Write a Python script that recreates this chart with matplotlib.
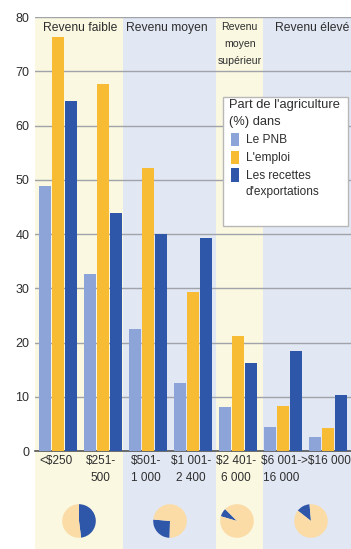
import matplotlib
matplotlib.use("Agg")
import matplotlib.pyplot as plt
from matplotlib.patches import Rectangle
import numpy as np

plt.rcParams['font.family'] = ['Liberation Sans', 'DejaVu Sans']

categories = ["<$250", "$251-\n500", "$501-\n1 000", "$1 001-\n2 400",
              "$2 401-\n6 000", "$6 001-\n16 000", ">$16 000"]
pnb = [48.8, 32.6, 22.5, 12.5, 8.1, 4.4, 2.6]
emploi = [76.3, 67.6, 52.2, 29.3, 21.2, 8.3, 4.2]
exports = [64.5, 43.9, 40.0, 39.3, 16.2, 18.4, 10.3]
series_labels = ["Le PNB", "L'emploi", "Les recettes\nd'exportations"]
legend_title = ["Part de l'agriculture", "(%) dans"]
groups = ["Revenu faible", "Revenu moyen", "Revenu\nmoyen\nsupérieur", "Revenu élevé"]
pie_shares = [48, 26, 8, 13]
yticks = [0, 10, 20, 30, 40, 50, 60, 70, 80]

c_pnb = "#8DA4D8"
c_emp = "#F8BB34"
c_exp = "#2F57A9"
c_yel = "#FAF8E1"
c_blu = "#E1E7F3"
c_txt = "#2E2E2E"

W, H = 351, 549
fig = plt.figure(figsize=(W/100, H/100), dpi=100)
fig.patch.set_facecolor("white")

def fx(px):
    return px / W

def fy(py):
    return (H - py) / H

ax_left, ax_right = 35, 351
ax_top, ax_bot = 17, 451
xmin = (ax_left - 58) / 45.0
xmax = (ax_right - 58) / 45.0

# background bands spanning to figure bottom
bg = fig.add_axes([fx(ax_left), 0, (ax_right-ax_left)/W, (H-ax_top)/H], zorder=0)
bg.set_xlim(xmin, xmax)
bg.set_ylim(0, 1)
bg.axis("off")
bands = [(xmin, 1.44, c_yel), (1.44, 3.51, c_blu), (3.51, 4.56, c_yel), (4.56, xmax, c_blu)]
for a, b, c in bands:
    bg.axvspan(a, b, color=c, lw=0)

ax = fig.add_axes([fx(ax_left), fy(ax_bot), (ax_right-ax_left)/W, (ax_bot-ax_top)/H], zorder=1)
ax.patch.set_alpha(0)
x = np.arange(len(categories))
w = 0.27
off = 0.29
ax.bar(x - off, pnb, w, color=c_pnb, zorder=3)
ax.bar(x, emploi, w, color=c_emp, zorder=3)
ax.bar(x + off, exports, w, color=c_exp, zorder=3)
ax.set_xlim(xmin, xmax)
ax.set_ylim(0, 80)
ax.set_yticks(yticks)
ax.set_yticklabels([str(t) for t in yticks], fontsize=9, color=c_txt)
ax.yaxis.grid(True, color="#A0A4AA", lw=1.0, zorder=1)
ax.tick_params(axis="y", length=0, pad=4)
ax.set_xticks(x - 0.05)
ax.set_xticklabels(categories, fontsize=8.5, color=c_txt, linespacing=1.55)
ax.tick_params(axis="x", length=0, pad=3)
for s in ["top", "right", "left"]:
    ax.spines[s].set_visible(False)
ax.spines["bottom"].set_color("#555555")
ax.spines["bottom"].set_linewidth(1.2)

# group labels
ax.text(0.49, 79.1, groups[0], ha="center", va="top", fontsize=8.7, color=c_txt, zorder=4)
ax.text(2.42, 79.1, groups[1], ha="center", va="top", fontsize=8.7, color=c_txt, zorder=4)
ax.text(4.04, 79.1, groups[2], ha="center", va="top", fontsize=7.6, color=c_txt,
        linespacing=1.9, zorder=4)
ax.text(4.82, 79.1, groups[3], ha="left", va="top", fontsize=8.7, color=c_txt, zorder=4)

# legend (drawn by hand in pixel positions)
fig.patches.append(Rectangle((fx(223), fy(226)), (348-223)/W, (226-97)/H,
                             transform=fig.transFigure, facecolor="white",
                             edgecolor="#B8B8B8", lw=1.0, zorder=5))
fig.text(fx(229), fy(105), legend_title[0], fontsize=9.3, color=c_txt,
         va="center", ha="left", zorder=6)
fig.text(fx(229), fy(122), legend_title[1], fontsize=9.3, color=c_txt,
         va="center", ha="left", zorder=6)
items = [(c_pnb, series_labels[0], 140, 133, 146),
         (c_emp, series_labels[1], 158, 151, 164),
         (c_exp, series_labels[2], 184, 168, 182)]
for col, lab, ty, y0, y1 in items:
    fig.patches.append(Rectangle((fx(231), fy(y1)), 8/W, (y1-y0)/H,
                                 transform=fig.transFigure, facecolor=col,
                                 lw=0, zorder=6))
    fig.text(fx(246), fy(ty), lab, fontsize=8.6, color=c_txt, va="center",
             ha="left", linespacing=1.45, zorder=6)

# pies
pie_cx = [79, 170, 237, 311]
pie_cy = 521
r = 21
starts = [90, 175, 135, 95]
ccw = [False, True, True, True]
for cx, share, st, cc in zip(pie_cx, pie_shares, starts, ccw):
    pa = fig.add_axes([fx(cx-r), fy(pie_cy+r), 2*r/W, 2*r/H], zorder=2)
    pa.pie([share, 100-share], colors=[c_exp, "#FBDCA6"], startangle=st,
           counterclock=cc, wedgeprops=dict(linewidth=0))
    pa.set_aspect("equal")
    pa.axis("off")

fig.savefig("out.png", dpi=100)
